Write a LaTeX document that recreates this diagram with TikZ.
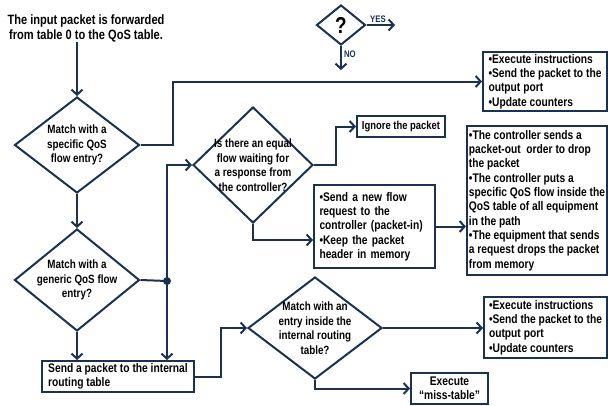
\documentclass[tikz,border=0pt]{standalone}
\usepackage{fontspec}
\setmainfont{Liberation Sans}[FakeStretch=0.82]
\usetikzlibrary{arrows.meta,calc,shapes.geometric}
\definecolor{navy}{HTML}{1C3050}

\begin{document}
\begin{tikzpicture}[
  x=1pt, y=-1pt,
  every node/.style={font=\fontsize{12.5}{14.3}\selectfont\bfseries},
  dec/.style={draw=navy, line width=2pt, diamond, inner sep=0pt},
  qtext/.style={align=center, inner sep=0pt, font=\fontsize{12}{14.5}\selectfont\bfseries},
  box/.style={draw=navy, line width=2pt, rectangle, inner xsep=2pt, inner ysep=1pt, align=left},
  arr/.style={-{Straight Barb[length=5pt,width=11pt]}, navy, line width=2pt}
]
\useasboundingbox (0,0) rectangle (608,405);

% legend
\node[dec, minimum width=49pt, minimum height=40pt] (dq) at (341,25) {};
\node[qtext, font=\fontsize{23}{23}\selectfont\bfseries] (dqt) at (dq) {?};
\coordinate (yes) at (395,25);
\coordinate (no) at (341,70);
\draw[arr] (dq.east) -- node[above, pos=0.4, font=\fontsize{9.5}{9.5}\selectfont\bfseries, inner sep=1.5pt] (yest) {YES} (yes);
\draw[arr] (dq.south) -- node[right, pos=0.35, font=\fontsize{9.5}{9.5}\selectfont\bfseries, inner sep=2pt] (not) {NO} (no);

% decisions
\node[qtext, font=\fontsize{13.5}{15}\selectfont\bfseries] (input) at (86,28) {The input packet is forwarded\\from table 0 to the QoS table.};
\node[dec, minimum width=125pt, minimum height=96pt] (d1) at (77,145) {};
\node[qtext] (d1t) at (d1) {Match with a\\specific QoS\\flow entry?};
\node[dec, minimum width=125pt, minimum height=102pt] (d2) at (77,280) {};
\node[qtext] (d2t) at (d2) {Match with a\\generic QoS flow\\entry?};
\node[dec, minimum width=120pt, minimum height=116pt] (d3) at (253,165) {};
\node[qtext] (d3t) at (d3) {Is there an equal\\flow waiting for\\a response from\\the controller?};
\node[dec, minimum width=134pt, minimum height=102pt] (d4) at (315,328) {};
\node[qtext] (d4t) at (d4) {Match with an\\entry inside the\\internal routing\\table?};

% actions
\node[box, minimum width=124pt, minimum height=59pt] (exec1) at (545,81.5)
  {•Execute instructions\\•Send the packet to the\\output port\\•Update counters};
\node[box, minimum width=88pt, minimum height=21pt, font=\fontsize{11.5}{14}\selectfont\bfseries] (ignore) at (401,126.5) {Ignore the packet};
\node[box, minimum width=121pt, minimum height=83pt, text width=110pt, inner xsep=5.5pt] (newflow) at (374.5,226.5)
  {•Send a new flow\\request to the\\controller (packet-in)\\•Keep the packet\\header in memory};
\node[box, minimum width=140pt, minimum height=149pt] (ctrl) at (537,200.5)
  {•The controller sends a\\packet-out\ \ order to drop\\the packet\\•The controller puts a\\specific QoS flow inside the\\QoS table of all equipment\\in the path\\•The equipment that sends\\a request drops the packet\\from memory};
\node[box, minimum width=152pt, minimum height=31pt] (send) at (118,376.5)
  {Send a packet to the internal\\routing table};
\node[box, minimum width=123pt, minimum height=61pt] (exec2) at (545.5,327.5)
  {•Execute instructions\\•Send the packet to the\\output port\\•Update counters};
\node[box, minimum width=77pt, minimum height=31pt, align=center] (miss) at (449.5,388.5)
  {Execute\\“miss-table”};

\fill[navy] (167,281) circle (4pt) coordinate (dot);

% connectors
\draw[arr] (input.south -| d1.north) -- (d1.north);
\draw[arr] (d1.east) -| ($(exec1.west)+(-309,0)$) -- (exec1.west);
\draw[arr] (d1.south) -- (d2.north);
\draw[navy, line width=2pt] (d2.east) -- (dot);
\draw[arr] (dot) |- (d3.west);
\draw[arr] (dot) -- (dot |- send.north);
\draw[arr] (d2.south) -- (d2.south |- send.north);
\draw[arr] (send.east) -- ++(26,0) |- (d4.west);
\draw[arr] (d4.east) -- (d4.east -| exec2.west);
\draw[arr] (d4.south) |- (miss.west);
\draw[arr] (d3.east) -- ++(22,0) |- (ignore.west);
\draw[arr] (d3.south) |- ($(newflow.west)+(0,13.5)$);
\draw[arr] (newflow.east) -- (newflow.east -| ctrl.west);
\end{tikzpicture}
\end{document}
